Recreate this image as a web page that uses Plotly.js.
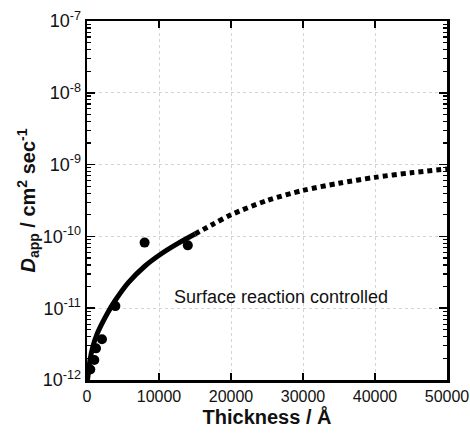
<!DOCTYPE html>
<html>
<head>
<meta charset="utf-8">
<script src="https://cdn.plot.ly/plotly-3.0.1.min.js"></script>
<style>html,body{margin:0;padding:0;background:#fff;}#chart{width:470px;height:435px;}</style>
</head>
<body>
<div id="chart"></div>
<script>
// Measured points
const pointX = [460, 1020, 1250, 2080, 3940, 8000, 14000];
const pointY = [1.4e-12, 1.9e-12, 2.76e-12, 3.7e-12, 1.07e-11, 8.2e-11, 7.5e-11];

// Fitted curve, solid part
const solidX = [70, 140, 420, 830, 1390, 2040, 2920, 3890, 5740, 8060, 10370, 12690, 15000];
const solidY = [1.0e-12, 1.14e-12, 1.9e-12, 2.96e-12, 4.35e-12, 6.0e-12, 8.8e-12, 1.27e-11, 2.27e-11, 3.87e-11, 5.77e-11, 8.05e-11, 1.08e-10];

// Extrapolated curve, dotted part
const dotX = [15000, 17500, 20000, 25000, 30000, 35000, 40000, 45000, 50000];
const dotY = [1.08e-10, 1.48e-10, 2.0e-10, 3.16e-10, 4.37e-10, 5.5e-10, 6.64e-10, 7.7e-10, 8.7e-10];

const yTickVals = [1e-12, 1e-11, 1e-10, 1e-9, 1e-8, 1e-7];
const yTickText = ['10<sup>-12</sup>', '10<sup>-11</sup>', '10<sup>-10</sup>', '10<sup>-9</sup>', '10<sup>-8</sup>', '10<sup>-7</sup>'];
const xTickVals = [0, 10000, 20000, 30000, 40000, 50000];
const xTickText = ['0', '10000', '20000', '30000', '40000', '50000'];

const minorVals = [];
for (let e = -12; e < -7; e++) for (let m = 2; m <= 9; m++) minorVals.push(m * Math.pow(10, e));

const traces = [
  {x: solidX, y: solidY, mode: 'lines', line: {color: '#000', width: 5, shape: 'spline', smoothing: 0.8}, hoverinfo: 'skip'},
  {x: dotX, y: dotY, mode: 'lines', line: {color: '#000', width: 5, dash: '5px,4px', shape: 'spline', smoothing: 0.8}, hoverinfo: 'skip'},
  {x: pointX, y: pointY, mode: 'markers', marker: {color: '#000', size: 10}}
];

const font = 'Liberation Sans, Arial, sans-serif';
const layout = {
  width: 470, height: 435,
  margin: {l: 87, r: 23, t: 21, b: 55},
  paper_bgcolor: '#fff', plot_bgcolor: '#fff',
  showlegend: false,
  font: {family: font, size: 17, color: '#111'},
  xaxis: {
    range: [0, 50000], tickmode: 'array', tickvals: xTickVals, ticktext: xTickText,
    ticks: 'inside', ticklen: 7, tickwidth: 1.5, tickcolor: '#000',
    showline: true, linecolor: '#000', linewidth: 2.5, mirror: 'ticks',
    showgrid: true, gridcolor: '#d4d4d4', griddash: 'dot', gridwidth: 1,
    zeroline: false,
    tickfont: {size: 16, family: font},
    title: {text: '<b>Thickness / Å</b>', font: {size: 20, family: font}, standoff: 4}
  },
  yaxis: {
    type: 'log', range: [-12, -7], tickmode: 'array', tickvals: yTickVals, ticktext: yTickText,
    ticks: 'inside', ticklen: 8, tickwidth: 1.5, tickcolor: '#000',
    showline: true, linecolor: '#000', linewidth: 2.5, mirror: 'ticks',
    showgrid: true, gridcolor: '#d4d4d4', griddash: 'dot', gridwidth: 1,
    zeroline: false,
    tickfont: {size: 18, family: font},
    minor: {tickmode: 'array', tickvals: minorVals, ticks: 'inside', ticklen: 4, tickwidth: 1.2, tickcolor: '#000', showgrid: false},
    title: {text: '<b><i>D</i><sub>app</sub> / cm<sup>2</sup> sec<sup>-1</sup></b>', font: {size: 20, family: font}, standoff: 2}
  },
  annotations: [{
    x: 27000, y: Math.log10(1.42e-11), xref: 'x', yref: 'y',
    text: 'Surface reaction controlled', showarrow: false,
    font: {size: 18, family: font, color: '#111'}, xanchor: 'center', yanchor: 'middle'
  }]
};

Plotly.newPlot('chart', traces, layout, {displayModeBar: false, staticPlot: true});
</script>
</body>
</html>
